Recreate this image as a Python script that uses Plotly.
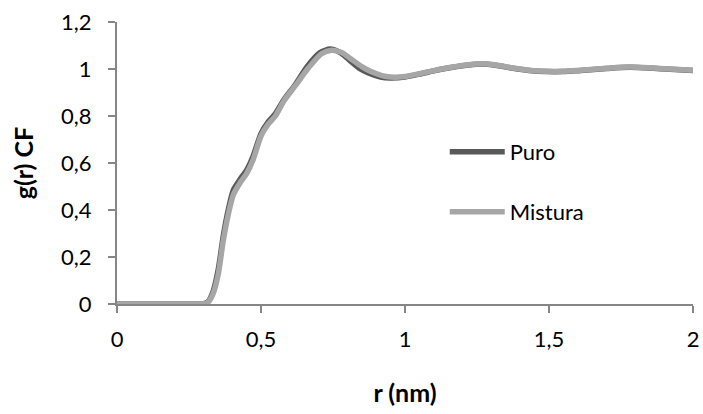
import plotly.graph_objects as go

r_mistura = [0, 0.1, 0.2, 0.27, 0.30, 0.315, 0.334, 0.352, 0.369, 0.387, 0.404, 0.427, 0.45, 0.473, 0.50, 0.525, 0.55, 0.58, 0.62,
             0.665, 0.71, 0.745, 0.78, 0.81, 0.85, 0.88, 0.92, 0.95, 1.0, 1.05, 1.1, 1.15, 1.2, 1.26,
             1.32, 1.375, 1.43, 1.49, 1.55, 1.61, 1.7, 1.78, 1.85, 1.92, 2.0]
g_mistura = [0, 0, 0, 0, 0.001, 0.006, 0.045, 0.13, 0.27, 0.385, 0.465, 0.515, 0.555, 0.615, 0.715, 0.765, 0.80, 0.865, 0.93,
             1.005, 1.065, 1.08, 1.07, 1.045, 1.01, 0.99, 0.972, 0.966, 0.968, 0.98, 0.993, 1.005, 1.015, 1.022,
             1.016, 1.004, 0.995, 0.99, 0.99, 0.995, 1.003, 1.008, 1.005, 1.0, 0.995]

r_puro = [0, 0.1, 0.2, 0.27, 0.30, 0.315, 0.334, 0.352, 0.369, 0.387, 0.404, 0.427, 0.45, 0.473, 0.50, 0.525, 0.55, 0.58, 0.62,
          0.66, 0.705, 0.74, 0.775, 0.805, 0.845, 0.875, 0.915, 0.95, 1.0, 1.05, 1.1, 1.15, 1.2, 1.26,
          1.32, 1.375, 1.43, 1.49, 1.55, 1.61, 1.7, 1.78, 1.85, 1.92, 2.0]
g_puro = [0, 0, 0, 0, 0.001, 0.008, 0.055, 0.15, 0.29, 0.405, 0.485, 0.53, 0.57, 0.63, 0.725, 0.775, 0.81, 0.87, 0.935,
          1.01, 1.07, 1.085, 1.07, 1.04, 1.0, 0.982, 0.966, 0.962, 0.966, 0.978, 0.992, 1.004, 1.014, 1.021,
          1.015, 1.003, 0.994, 0.989, 0.989, 0.994, 1.002, 1.007, 1.004, 0.999, 0.994]

x_ticks = [0, 0.5, 1, 1.5, 2]
x_labels = ["0", "0,5", "1", "1,5", "2"]
y_ticks = [0, 0.2, 0.4, 0.6, 0.8, 1.0, 1.2]
y_labels = ["0", "0,2", "0,4", "0,6", "0,8", "1", "1,2"]

FONT = "Lato"
fig = go.Figure()
fig.add_trace(go.Scatter(x=r_puro, y=g_puro, mode="lines", name="Puro",
                         line=dict(color="#595959", width=5.5, shape="spline", smoothing=0.7),
                         legend="legend", showlegend=True))
fig.add_trace(go.Scatter(x=r_mistura, y=g_mistura, mode="lines", name="Mistura",
                         line=dict(color="#A6A6A6", width=5.5, shape="spline", smoothing=0.7),
                         legend="legend2", showlegend=True))

axis_common = dict(showgrid=False, zeroline=False, showline=True, linecolor="#868686", linewidth=2,
                   ticks="outside", ticklen=7, tickwidth=1.5, tickcolor="#868686", automargin=False,
                   tickfont=dict(family=FONT, size=22, color="#000000"))
fig.update_layout(
    width=703, height=414,
    margin=dict(l=117, r=10, t=22, b=110),
    paper_bgcolor="white", plot_bgcolor="white",
    showlegend=True,
    xaxis=dict(range=[0, 2], tickvals=x_ticks, ticktext=x_labels, ticklabelstandoff=8,
               title=dict(text="<b>r (nm)</b>", font=dict(family=FONT, size=25, color="#000"), standoff=33),
               **axis_common),
    yaxis=dict(range=[0, 1.2], tickvals=y_ticks, ticktext=y_labels, ticklabelstandoff=12,
               title=dict(text="<b>g(r) CF</b>", font=dict(family=FONT, size=25, color="#000"), standoff=20),
               **axis_common),
    legend=dict(x=0.569, y=0.539, xanchor="left", yanchor="middle", bgcolor="rgba(0,0,0,0)",
                font=dict(family=FONT, size=22, color="#000"), itemwidth=55),
    legend2=dict(x=0.569, y=0.326, xanchor="left", yanchor="middle", bgcolor="rgba(0,0,0,0)",
                 font=dict(family=FONT, size=22, color="#000"), itemwidth=55),
)
fig.write_html("out.html")
